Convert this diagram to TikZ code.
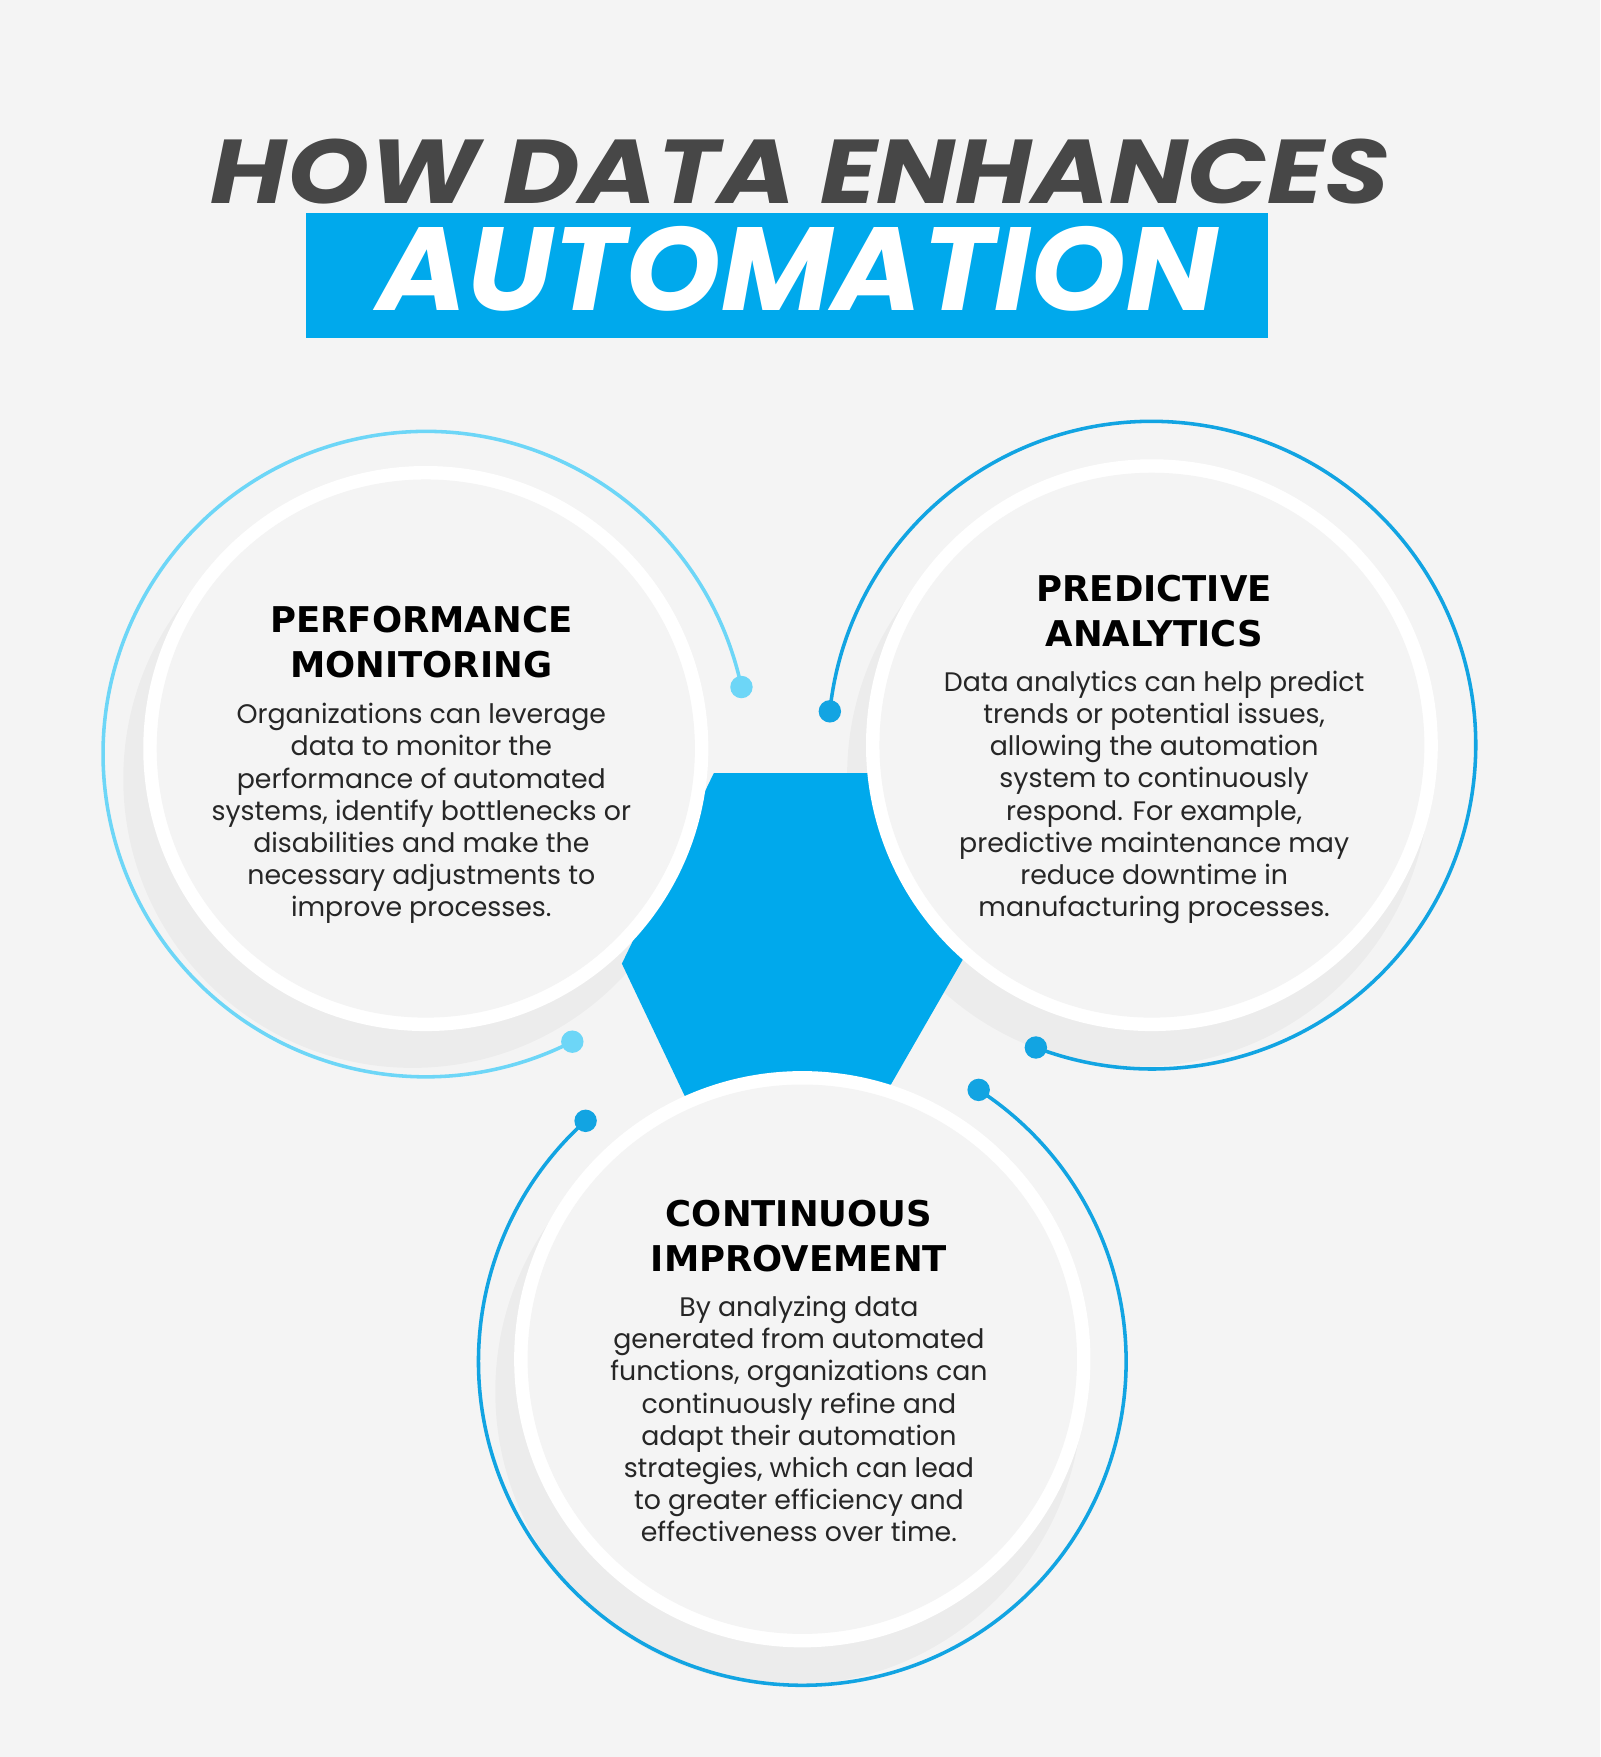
\documentclass[tikz,border=0pt]{standalone}
\usepackage{fontspec}
\setmainfont{Poppins}
\newfontfamily\headfont{DejaVu Sans}
\definecolor{bgray}{HTML}{F4F4F4}
\definecolor{skyblue}{HTML}{00A9EC}
\definecolor{lightblue}{HTML}{6DD6F7}
\definecolor{ringblue}{HTML}{12A4E2}
\definecolor{titlegray}{HTML}{474747}
\begin{document}
\begin{tikzpicture}[x=0.01cm,y=-0.01cm,
        every node/.style={align=center, inner sep=0pt}
    ]

    % Define styles for nodes
    \tikzset{
        heading/.style={font=\headfont\bfseries\fontsize{9}{11.4}\selectfont, text=black},
        body/.style={font=\fontsize{6.8}{8.17}\selectfont, text=black!85},
        disc/.style={circle, fill=white, draw=none},
        core/.style={circle, fill=bgray},
        shade/.style={circle, fill=black, opacity=0.03},
        arcline/.style={line width=0.9pt},
        dotmark/.style={circle, minimum size=0.2cm}
    }

    % Background
    \fill[bgray] (0,0) rectangle (1428,1568);

    % Title
    \node[font=\bfseries\itshape\fontsize{23}{28}\selectfont, text=titlegray] (title) at (714,153) {\scalebox{1.155}[1]{HOW DATA ENHANCES}};
    \fill[skyblue] (273,190) rectangle (1132,302);
    \node[font=\bfseries\itshape\fontsize{30}{36}\selectfont, text=white] (banner) at (712,240) {\scalebox{1.03}[1]{AUTOMATION}};

    % Shadows
    \fill[shade] (368,695) circle (258);
    \fill[shade] (1016,692) circle (260);
    \fill[shade] (704,1242) circle (262);

    % Center shape
    \fill[skyblue] (637,690) -- (776,690) -- (860,855) -- (795,968) -- (612,980) -- (555,860) -- cycle;

    % Circles
    \node[disc, minimum size=5.04cm] (perfdisc) at (380,668) {};
    \node[core, minimum size=4.8cm] at (perfdisc) {};
    \node[disc, minimum size=5.1cm] (preddisc) at (1028,665) {};
    \node[core, minimum size=4.86cm] at (preddisc) {};
    \node[disc, minimum size=5.14cm] (contdisc) at (716,1213) {};
    \node[core, minimum size=4.9cm] at (contdisc) {};

    % Outer arcs with end dots
    \draw[arcline, lightblue] ([shift={(-12:288)}]380,673) arc[start angle=-12, end angle=-297, radius=288];
    \node[dotmark, fill=lightblue] (perfa) at ([shift={(-12:288)}]380,673) {};
    \node[dotmark, fill=lightblue] (perfb) at ([shift={(-297:288)}]380,673) {};

    \draw[arcline, ringblue] ([shift={(-174:289)}]1028,665) arc[start angle=-174, end angle=111, radius=289];
    \node[dotmark, fill=ringblue] (preda) at ([shift={(-174:289)}]1028,665) {};
    \node[dotmark, fill=ringblue] (predb) at ([shift={(111:289)}]1028,665) {};

    \draw[arcline, ringblue] ([shift={(-132:289)}]716,1215) arc[start angle=-132, end angle=-417, radius=289];
    \node[dotmark, fill=ringblue] (conta) at ([shift={(-132:289)}]716,1215) {};
    \node[dotmark, fill=ringblue] (contb) at ([shift={(-417:289)}]716,1215) {};

    % Texts
    \node[heading] (perfhead) at (376,573) {PERFORMANCE\\MONITORING};
    \node[body, anchor=north] (perfbody) at (376,627) {Organizations can leverage\\data to monitor the\\performance of automated\\systems, identify bottlenecks or\\disabilities and make the\\necessary adjustments to\\improve processes.};

    \node[heading] (predhead) at (1030,545) {PREDICTIVE\\ANALYTICS};
    \node[body, anchor=north] (predbody) at (1030,598) {Data analytics can help predict\\trends or potential issues,\\allowing the automation\\system to continuously\\respond. For example,\\predictive maintenance may\\reduce downtime in\\manufacturing processes.};

    \node[heading] (conthead) at (713,1103) {CONTINUOUS\\IMPROVEMENT};
    \node[body, anchor=north] (contbody) at (713,1156) {By analyzing data\\generated from automated\\functions, organizations can\\continuously refine and\\adapt their automation\\strategies, which can lead\\to greater efficiency and\\effectiveness over time.};

\end{tikzpicture}
\end{document}
